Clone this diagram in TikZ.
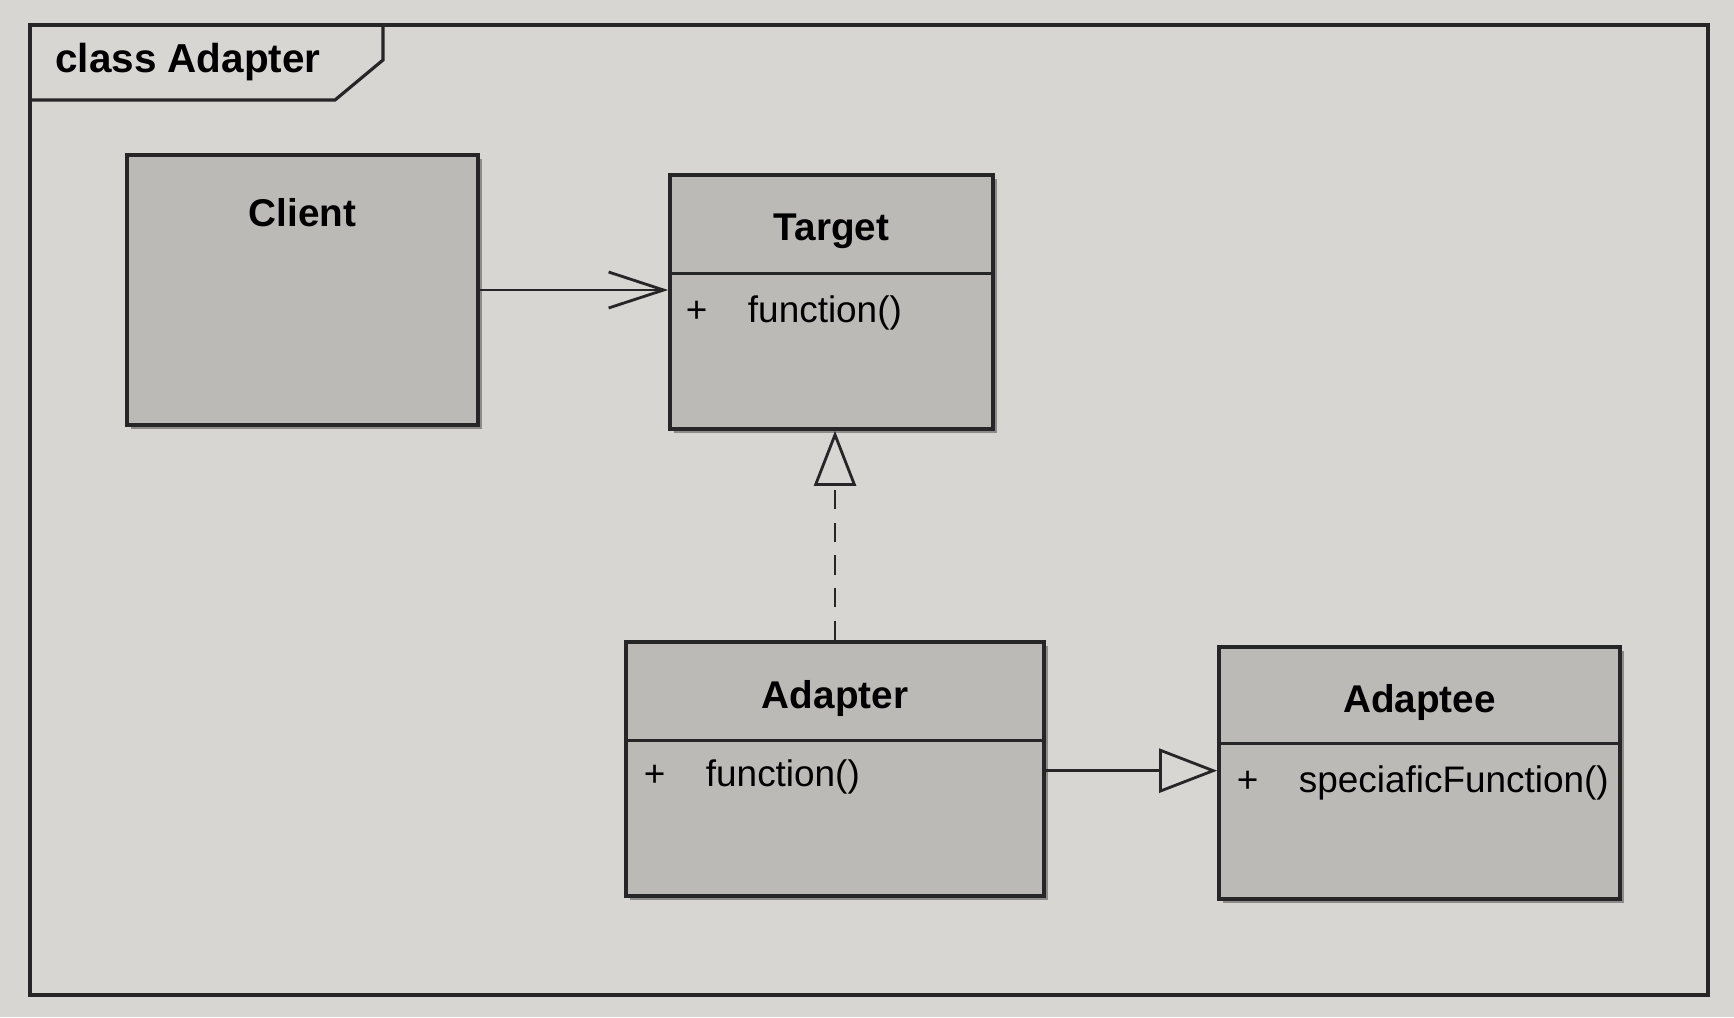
\documentclass[tikz,border=0pt]{standalone}
\usepackage{fontspec}
\setmainfont{Liberation Sans}
\usetikzlibrary{positioning,arrows.meta,shadows}
\definecolor{paper}{RGB}{216,214,211}
\definecolor{boxgray}{RGB}{188,186,183}
\definecolor{boxlight}{RGB}{226,224,221}
\newcommand{\umlop}[1]{\makebox[6.2mm][l]{+}#1}
\begin{document}
\begin{tikzpicture}[x=0.01cm,y=-0.01cm,
  every node/.style={font=\fontsize{10.5}{12}\selectfont},
  umlbox/.style={draw=black!85,line width=1pt,left color=boxgray,middle color=boxlight,right color=boxgray,
    drop shadow={shadow xshift=1.2pt,shadow yshift=-1.2pt,fill=black,opacity=0.35},inner sep=0pt},
  headpart/.style={inner sep=0pt,anchor=north},
  clsname/.style={font=\fontsize{11}{13}\selectfont\bfseries,inner sep=0pt},
  member/.style={anchor=west,inner sep=0pt},
  divider/.style={line width=1pt,black!85},
  link/.style={line width=0.8pt,black!85}]
  \fill[paper] (0,0) rectangle (1734,1017);
  \useasboundingbox (0,0) rectangle (1734,1017);
  % frame
  \draw[line width=0.9pt,black!85] (30,25) rectangle (1708,995);
  \draw[line width=0.9pt,black!85] (30,100) -- (335,100) -- (383,60) -- (383,25);
  \node[clsname,font=\fontsize{11.5}{13}\selectfont\bfseries] (frametitle) at (188,62) {class Adapter};
  % classes
  \node[umlbox,minimum width=3.51cm,minimum height=2.7cm] (client) at (302.5,290) {};
  \node[clsname] (clientname) at (302.5,213) {Client};
  \node[umlbox,minimum width=3.23cm,minimum height=2.54cm] (target) at (831.5,302) {};
  \node[headpart,minimum width=3.23cm,minimum height=0.99cm] (targethead) at (target.north) {};
  \draw[divider] (targethead.south west) -- (targethead.south east);
  \node[clsname] (targetname) at ([yshift=-0.08cm]targethead) {Target};
  \node[member] (targetop) at ([xshift=0.16cm,yshift=-0.39cm]targethead.south west) {\umlop{function()}};
  \node[umlbox,minimum width=4.18cm,minimum height=2.54cm] (adapter) at (835,769) {};
  \node[headpart,minimum width=4.18cm,minimum height=0.99cm] (adapterhead) at (adapter.north) {};
  \draw[divider] (adapterhead.south west) -- (adapterhead.south east);
  \node[clsname] (adaptername) at ([yshift=-0.08cm]adapterhead) {Adapter};
  \node[member] (adapterop) at ([xshift=0.18cm,yshift=-0.36cm]adapterhead.south west) {\umlop{function()}};
  \node[umlbox,minimum width=4.01cm,minimum height=2.52cm] (adaptee) at (1419.5,773) {};
  \node[headpart,minimum width=4.01cm,minimum height=0.97cm] (adapteehead) at (adaptee.north) {};
  \draw[divider] (adapteehead.south west) -- (adapteehead.south east);
  \node[clsname] (adapteename) at ([yshift=-0.08cm]adapteehead) {Adaptee};
  \node[member] (adapteeop) at ([xshift=0.18cm,yshift=-0.39cm]adapteehead.south west) {\umlop{speciaficFunction()}};
  % relations
  \draw[link,-{Straight Barb[length=5.5mm,width=3.6mm]}] (client.east) -- (client.east -| target.west);
  \draw[link,dash pattern=on 5.5pt off 3.8pt,-{Triangle[length=5.5mm,width=4.2mm,fill=paper]}] (adapter.north) -- (adapter.north |- target.south);
  \draw[link,-{Triangle[length=5.8mm,width=4.4mm,fill=paper]}] ([yshift=0.06cm]adapterop -| adapter.east) -- ([yshift=0.06cm]adapterop -| adaptee.west);
\end{tikzpicture}
\end{document}
